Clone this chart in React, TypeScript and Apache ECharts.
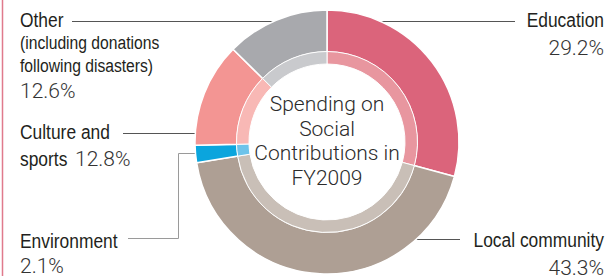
import React, { useEffect, useRef } from "react";
import * as echarts from "echarts";

const categories = ["Education", "Local community", "Environment", "Culture and sports", "Other"];
const values = [29.2, 43.3, 2.1, 12.8, 12.6];
const percentLabels = ["29.2%", "43.3%", "2.1%", "12.8%", "12.6%"];
const outerColors = ["#db647b", "#ae9f94", "#0ba5dd", "#f39593", "#a8a9ad"];
const innerColors = ["#e8969f", "#c9bfb7", "#6dc3ea", "#f8b8b5", "#c9cacd"];
const centerTitle = "Spending on\nSocial\nContributions in\nFY2009";
const otherNote = ["(including donations", "following disasters)"];

const NAME_FONT = "'Liberation Sans', Arial, sans-serif";
const NUM_FONT = "Roboto, 'Liberation Sans', sans-serif";
const NAME_SCALE = 0.87;

function nameText(text: string, x: number, y: number, align: string, size = 20): any {
  return {
    type: "text",
    x,
    y,
    scaleX: NAME_SCALE,
    silent: true,
    style: {
      text,
      align,
      verticalAlign: "middle",
      fontFamily: NAME_FONT,
      fontSize: size,
      fill: "#231f20",
    },
  };
}

function numText(text: string, x: number, y: number, align: string): any {
  return {
    type: "text",
    x,
    y,
    silent: true,
    style: {
      text,
      align,
      verticalAlign: "middle",
      fontFamily: NUM_FONT,
      fontWeight: 300,
      fontSize: 21,
      fill: "#333333",
    },
  };
}

function leader(points: number[][], color: string): any {
  return {
    type: "polyline",
    silent: true,
    shape: { points },
    style: { stroke: color, lineWidth: 1, fill: null },
  };
}

export default function App() {
  const ref = useRef<HTMLDivElement>(null);
  useEffect(() => {
    document.body.style.margin = "0";
    if (!ref.current) return;
    const chart = echarts.init(ref.current, undefined, { renderer: "svg" });

    const labels: any[] = [
      // Education
      nameText(categories[0], 604, 20.5, "right"),
      numText(percentLabels[0], 604, 47.5, "right"),
      leader([[515, 21.5], [363, 21.5]], "#555555"),
      // Local community
      nameText(categories[1], 604, 240.5, "right"),
      numText(percentLabels[1], 604, 267.5, "right"),
      leader([[460, 239.5], [407, 239.5]], "#555555"),
      // Environment
      nameText(categories[2], 20, 240.8, "left"),
      numText(percentLabels[2], 20, 265.8, "left"),
      leader([[128, 238.5], [178.5, 238.5], [178.5, 153.5], [200, 153.5]], "#9a9a9a"),
      // Culture and sports
      nameText("Culture and", 20, 132.5, "left"),
      nameText("sports", 20, 159, "left"),
      numText(percentLabels[3], 75, 159, "left"),
      leader([[123, 133.5], [203, 133.5]], "#555555"),
      // Other
      nameText(categories[4], 20, 20, "left"),
      nameText(otherNote[0], 20, 43.5, "left", 18),
      nameText(otherNote[1], 20, 66.5, "left", 18),
      numText(percentLabels[4], 20, 90.5, "left"),
      leader([[72, 21.5], [287, 21.5]], "#555555"),
    ];

    chart.setOption({
      animation: false,
      backgroundColor: "#ffffff",
      series: [
        {
          type: "pie",
          center: [327, 142],
          radius: [90, 132],
          startAngle: 90,
          clockwise: true,
          silent: true,
          label: { show: false },
          labelLine: { show: false },
          itemStyle: { borderColor: "#ffffff", borderWidth: 1.5 },
          data: categories.map((c, i) => ({
            name: c,
            value: values[i],
            itemStyle: { color: outerColors[i] },
          })),
        },
        {
          type: "pie",
          center: [327, 142],
          radius: [78, 90.5],
          startAngle: 90,
          clockwise: true,
          silent: true,
          label: { show: false },
          labelLine: { show: false },
          itemStyle: { borderColor: "#ffffff", borderWidth: 1 },
          data: categories.map((c, i) => ({
            name: c,
            value: values[i],
            itemStyle: { color: innerColors[i] },
          })),
        },
      ],
      graphic: [
        {
          type: "line",
          silent: true,
          shape: { x1: 2.5, y1: 0, x2: 2.5, y2: 276 },
          style: { stroke: "#e07a8c", lineWidth: 1.5 },
        },
        {
          type: "text",
          x: 327,
          y: 141,
          silent: true,
          style: {
            text: centerTitle,
            align: "center",
            verticalAlign: "middle",
            fontFamily: NUM_FONT,
            fontWeight: 300,
            fontSize: 21,
            lineHeight: 24.5,
            fill: "#2b2b2b",
          },
        },
        ...labels,
      ],
    });
    return () => chart.dispose();
  }, []);
  return <div ref={ref} style={{ width: 611, height: 279 }} />;
}
